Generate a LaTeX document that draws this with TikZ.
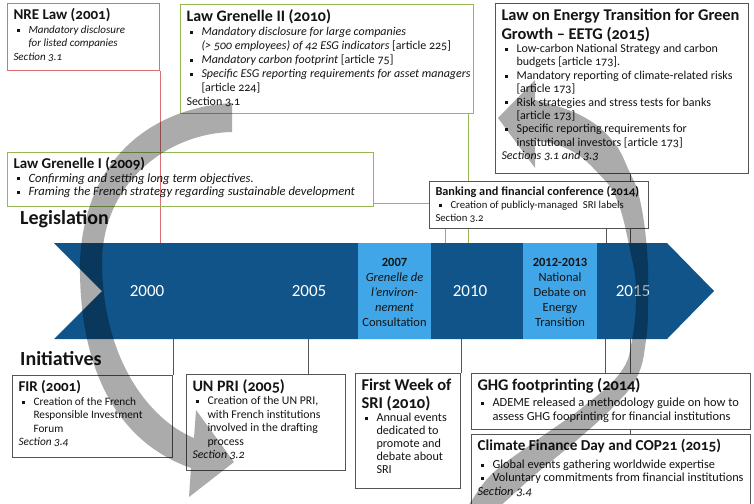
\documentclass[tikz,border=0pt]{standalone}
\usepackage{fontspec}
\setmainfont{Carlito}[Numbers=OldStyle]
\usetikzlibrary{calc}
\pgfdeclarelayer{bg}
\pgfdeclarelayer{fg}
\pgfsetlayers{bg,main,fg}

\definecolor{axisblue}{RGB}{16,84,138}
\definecolor{eventblue}{RGB}{64,166,232}
\definecolor{lawred}{RGB}{214,112,115}
\definecolor{lawgreen}{RGB}{150,184,84}
\definecolor{boxgray}{RGB}{85,85,85}
\definecolor{ink}{RGB}{20,20,20}

\newcommand{\bul}[1]{\par\noindent\hangindent=15pt\hangafter=1\hbox to 15pt{\hspace{3pt}\raisebox{.3ex}{\rule{3pt}{3pt}}\hfil}#1\par}
\newcommand{\ttl}[3]{{\fontsize{#1}{#2}\selectfont\bfseries #3\par}}
\newcommand{\panel}[3]{\makebox[\dimexpr#1pt-12pt\relax][l]{\begin{minipage}[c][\dimexpr#2pt-10pt\relax][t]{\dimexpr#1pt+30pt\relax}\raggedright\fontsize{11}{13.5}\selectfont #3\end{minipage}}}

\tikzset{
  panel/.style={draw=boxgray, line width=1pt, fill=white, anchor=north west,
    inner xsep=6pt, inner ysep=5pt, text=ink},
  lawred/.style={panel, draw=lawred},
  lawgreen/.style={panel, draw=lawgreen},
  link/.style={draw=boxgray, line width=1pt},
  yearlabel/.style={text=white, inner sep=0pt,
    font=\fontsize{17}{20}\selectfont\addfontfeatures{Numbers=Lining}},
  eventtext/.style={align=center, inner sep=0pt, text=ink,
    font=\fontsize{12.5}{15}\selectfont\addfontfeatures{Numbers=Lining}},
  rowlabel/.style={anchor=base west, inner sep=0pt, text=ink,
    font=\fontsize{20}{24}\selectfont\bfseries},
  cyclearrow/.style={fill=black, opacity=0.33}
}

\begin{document}
\begin{tikzpicture}[x=1pt, y=-1pt]
    \useasboundingbox (0,0) rectangle (754,503);

    \coordinate (tltop) at (0,243);
    \coordinate (tlbot) at (0,339);
    \coordinate (tgren1) at (445,243);
    \coordinate (tgren2) at (468,243);
    \coordinate (tbank) at (606,243);
    \coordinate (teetg) at (630,243);
    \coordinate (tunpri) at (308,339);
    \coordinate (tghg) at (605,339);
    \coordinate (tclim) at (630,339);

    % legislation
    \node[lawred] (nre) at (7,3) {\panel{152}{67}{
        \ttl{15}{18}{NRE Law (2001)}
        \bul{\itshape Mandatory disclosure\newline for listed companies}
        Section 3.1}};
    \node[lawgreen] (gren2) at (180,4) {\panel{293}{109}{
        \ttl{16}{18}{Law Grenelle II (2010)}
        \fontsize{12}{14}\selectfont
        \bul{\textit{Mandatory disclosure for large companies\newline (> 500 employees) of 42 ESG indicators} [article 225]}
        \bul{\textit{Mandatory carbon footprint} [article 75]}
        \bul{\textit{Specific ESG reporting requirements for asset managers}\newline [article 224]}
        Section 3.1}};
    \node[panel] (eetg) at (495,3) {\panel{253}{170}{
        \ttl{16.4}{19}{Law on Energy Transition for Green\newline Growth – EETG (2015)}
        \fontsize{12}{13.4}\selectfont
        \bul{Low-carbon National Strategy and carbon\newline budgets [article 173].}
        \bul{Mandatory reporting of climate-related risks\newline [article 173]}
        \bul{Risk strategies and stress tests for banks\newline [article 173]}
        \bul{Specific reporting requirements for\newline institutional investors [article 173]}
        \textit{Sections 3.1 and 3.3}}};
    \node[lawgreen, fill=none] (gren1) at (7,152) {\panel{366}{54}{
        \ttl{15}{17}{Law Grenelle I (2009)}
        \fontsize{12.6}{13.5}\selectfont
        \bul{\itshape Confirming and setting long term objectives.}
        \bul{\itshape Framing the French strategy regarding sustainable development}}};
    \node[panel] (bank) at (429,181) {\panel{219}{47}{
        \ttl{12.3}{14}{Banking and financial conference (2014)}
        \fontsize{10.7}{13}\selectfont
        \bul{Creation of publicly-managed~ SRI labels}
        Section 3.2}};

    % initiatives
    \node[panel] (fir) at (12,375) {\panel{160}{82}{
        \ttl{15}{18}{FIR (2001)}
        \fontsize{11.3}{13.5}\selectfont
        \bul{Creation of the French\newline Responsible Investment\newline Forum}
        \textit{Section 3.4}}};
    \node[panel] (unpri) at (186,374) {\panel{159}{96}{
        \ttl{16}{18}{UN PRI (2005)}
        \fontsize{11.8}{13.5}\selectfont
        \bul{Creation of the UN PRI,\newline with French institutions\newline involved in the drafting\newline process}
        \textit{Section 3.2}}};
    \node[panel] (sri) at (355,373) {\panel{105}{115}{
        \ttl{16.5}{18}{First Week of\newline SRI (2010)}
        \fontsize{12.2}{12.8}\selectfont
        \vspace{1pt}
        \bul{Annual events\newline dedicated to\newline promote and\newline debate about\newline SRI}}};
    \node[panel] (ghg) at (471,373) {\panel{279}{56}{
        \ttl{16.3}{19}{GHG footprinting (2014)}
        \fontsize{12.4}{13.3}\selectfont
        \vspace{3pt}
        \bul{ADEME released a methodology guide on how to\newline assess GHG fooprinting for financial institutions}}};
    \node[panel] (climate) at (471,434) {\panel{279}{76}{
        \ttl{15.2}{18}{Climate Finance Day and COP21 (2015)}
        \fontsize{12.3}{13.6}\selectfont
        \vspace{4pt}
        \bul{Global events gathering worldwide expertise}
        \bul{Voluntary commitments from financial institutions}
        \textit{Section 3.4}}};

    \node[rowlabel] (legis) at (20,224) {Legislation};
    \node[rowlabel] (initi) at (20,365) {Initiatives};

    \begin{pgfonlayer}{bg}
        \fill[axisblue] (54,243) -- (667,243) -- (714,291) -- (667,339)
            -- (54,339) -- (102,291) -- cycle;
        \fill[eventblue] (358,243) rectangle (431,339);
        \fill[eventblue] (523,243) rectangle (597,339);

        \draw[link, draw=lawred] (nre.south east) -- (nre.south east |- tltop);
        \draw[link, draw=lawgreen] ([yshift=4pt]gren1.south east) -| (tgren1);
        \draw[link, draw=lawgreen] (gren2.south -| tgren2) -- (tgren2);
        \draw[link] (eetg.south -| teetg) -- (teetg);
        \draw[link] (bank.south -| tbank) -- (tbank);
        \draw[link] (fir.north east) -- (fir.north east |- tlbot);
        \draw[link] (unpri.north -| tunpri) -- (tunpri);
        \draw[link] (sri.north east) -- (sri.north east |- tlbot);
        \draw[link] (ghg.north -| tghg) -- (tghg);
        \draw[link] (climate.north -| tclim) -- (tclim);
    \end{pgfonlayer}

    \foreach \yr/\xx in {2000/147, 2005/309, 2010/470, 2015/633}
        \node[yearlabel] (y\yr) at (\xx,291) {\yr};
    \node[eventtext] (grenelle) at (394.5,292)
        {\textbf{2007}\\\textit{Grenelle de}\\\textit{l’environ-}\\\textit{nement}\\Consultation};
    \node[eventtext] (debate) at (560,292)
        {\textbf{2012-2013}\\National\\Debate on\\Energy\\Transition};

    % cycle arrows
    \begin{pgfonlayer}{fg}
        \fill[cyclearrow] (232,103) .. controls (150,108) and (85,160) .. (80,260)
            .. controls (78,380) and (125,445) .. (191,468)
            -- (189,497) -- (234,462) -- (196,410) -- (194,438)
            .. controls (150,420) and (102,360) .. (102,260)
            .. controls (104,180) and (170,133) .. (232,132) -- cycle;
        \fill[cyclearrow] plot[smooth, tension=0.7] coordinates {(490,515) (507,500)
                (537,473) (577,440) (613,407) (637,377) (646,340) (648,300) (647,250)
                (640,200) (630,173) (612,140) (580,115) (535,100)}
            -- (535,80) -- (498,118) -- (535,168)
            -- plot[smooth, tension=0.7] coordinates {(535,140) (570,150) (598,173)
                (617,200) (630,250) (636,290) (632,340) (620,373) (583,407) (537,440)
                (493,473) (470,503) (462,515)} -- cycle;
    \end{pgfonlayer}
\end{tikzpicture}
\end{document}
